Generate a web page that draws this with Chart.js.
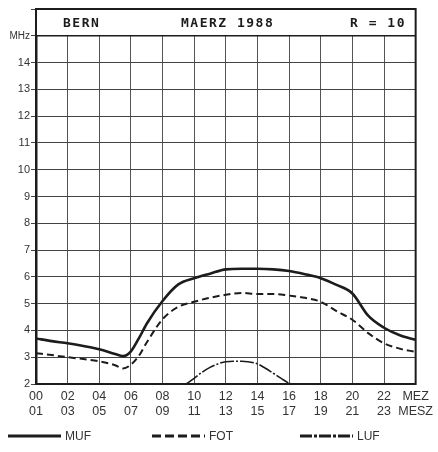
<!DOCTYPE html>
<html>
<head>
<meta charset="utf-8">
<script src="https://cdn.jsdelivr.net/npm/chart.js@4"></script>
<style>
  html, body { margin: 0; background: #fff; }
</style>
</head>
<body>
<canvas id="chart" width="438" height="452"></canvas>
<script>
// hours (MEZ) and frequencies in MHz
const mufHours = [0, 1, 2, 3, 4, 5, 5.5, 6, 6.5, 7, 8, 9, 10, 11, 12, 13, 14, 15, 16, 17, 18, 19, 20, 21, 22, 23, 24];
const mufValues = [3.7, 3.6, 3.52, 3.42, 3.3, 3.12, 3.04, 3.22, 3.7, 4.25, 5.1, 5.72, 5.95, 6.12, 6.28, 6.3, 6.3, 6.28, 6.22, 6.1, 5.95, 5.7, 5.38, 4.55, 4.1, 3.82, 3.65];

const fotHours = [0, 1, 2, 3, 4, 5, 5.5, 6, 6.5, 7, 8, 9, 10, 11, 12, 13, 14, 15, 16, 17, 18, 19, 20, 21, 22, 23, 24];
const fotValues = [3.15, 3.08, 3.0, 2.93, 2.85, 2.7, 2.58, 2.72, 3.05, 3.55, 4.42, 4.88, 5.07, 5.22, 5.33, 5.4, 5.36, 5.36, 5.3, 5.22, 5.07, 4.72, 4.4, 3.9, 3.52, 3.32, 3.2];

const lufHours = [9.5, 10, 10.5, 11, 11.5, 12, 13, 14, 14.5, 15, 15.5, 16, 16.3];
const lufValues = [2.0, 2.21, 2.44, 2.62, 2.75, 2.83, 2.85, 2.75, 2.59, 2.4, 2.21, 2.03, 2.0];

const headerTexts = ["BERN", "MAERZ 1988", "R = 10"];
const legendLabels = ["MUF", "FOT", "LUF"];

function toPoints(xs, ys) {
    return xs.map((x, i) => ({ x: x, y: ys[i] }));
}

function pad2(n) {
    return (n < 10 ? "0" : "") + n;
}

const ink = "#1c1c1c";

// draws the header box, outer frame and the legend under the axis
const framePlugin = {
    id: "frame",
    afterDraw(chart) {
        const ctx = chart.ctx;
        const a = chart.chartArea;
        const y15 = chart.scales.y.getPixelForValue(15);
        ctx.save();

        // header band
        ctx.fillStyle = "#fff";
        ctx.fillRect(a.left + 1, a.top + 1, a.right - a.left - 2, y15 - a.top - 1);

        ctx.strokeStyle = ink;
        ctx.lineWidth = 2;
        ctx.strokeRect(a.left, a.top, a.right - a.left, a.bottom - a.top);
        ctx.lineWidth = 1.6;
        ctx.beginPath();
        ctx.moveTo(a.left, y15);
        ctx.lineTo(a.right, y15);
        ctx.stroke();

        ctx.fillStyle = ink;
        ctx.font = 'bold 13px "DejaVu Sans Mono"';
        ctx.letterSpacing = "1.5px";
        ctx.textBaseline = "middle";
        const headerX = [63, 181, 350];
        const midY = (a.top + y15) / 2 + 1;
        headerTexts.forEach((t, i) => ctx.fillText(t, headerX[i], midY));
        ctx.letterSpacing = "0px";

        // legend
        const legendX = [8, 152, 300];
        const legendY = 436;
        chart.data.datasets.forEach((ds, i) => {
            ctx.strokeStyle = ink;
            ctx.lineWidth = 3.2;
            ctx.setLineDash(ds.legendDash);
            ctx.beginPath();
            ctx.moveTo(legendX[i], legendY);
            ctx.lineTo(legendX[i] + 53, legendY);
            ctx.stroke();
            ctx.setLineDash([]);
            ctx.fillStyle = "#333";
            ctx.font = '12px "Liberation Sans"';
            ctx.fillText(ds.label, legendX[i] + 57, legendY + 1);
        });
        ctx.restore();
    }
};

new Chart(document.getElementById("chart"), {
    type: "line",
    data: {
        datasets: [
            {
                label: legendLabels[0],
                data: toPoints(mufHours, mufValues),
                borderColor: ink,
                borderWidth: 2.6,
                legendDash: [],
            },
            {
                label: legendLabels[1],
                data: toPoints(fotHours, fotValues),
                borderColor: ink,
                borderWidth: 2,
                borderDash: [7, 4],
                legendDash: [9, 4],
            },
            {
                label: legendLabels[2],
                data: toPoints(lufHours, lufValues),
                borderColor: ink,
                borderWidth: 1.6,
                borderDash: [14, 2, 2, 2],
                legendDash: [12, 2, 3, 2],
            },
        ],
    },
    options: {
        responsive: false,
        animation: false,
        layout: { padding: { left: 0, right: 20, top: 9, bottom: 0 } },
        elements: {
            point: { radius: 0 },
            line: { cubicInterpolationMode: "monotone", fill: false },
        },
        plugins: {
            legend: { display: false },
            tooltip: { enabled: false },
        },
        scales: {
            x: {
                type: "linear",
                min: 0,
                max: 24,
                afterFit: (s) => { s.height = 68; },
                ticks: {
                    stepSize: 2,
                    padding: 5,
                    color: "#333",
                    font: { family: "Liberation Sans", size: 12.5, lineHeight: 1.22 },
                    maxRotation: 0,
                    autoSkip: false,
                    callback: (v) => v === 24 ? ["MEZ", "MESZ"] : [pad2(v), pad2(v + 1)],
                },
                grid: { color: "#555", lineWidth: 1, drawTicks: false },
                border: { color: ink, width: 1.5 },
            },
            y: {
                min: 2,
                max: 16,
                afterFit: (s) => { s.width = 36; },
                ticks: {
                    stepSize: 1,
                    padding: 1,
                    color: "#333",
                    font: (c) => ({ family: "Liberation Sans", size: c.tick && c.tick.value === 15 ? 10 : 11 }),
                    callback: (v) => v === 15 ? "MHz" : v === 16 ? "" : v,
                },
                grid: { color: "#444", lineWidth: 1, tickLength: 5 },
                border: { color: ink, width: 2.5 },
            },
        },
    },
    plugins: [framePlugin],
});
</script>
</body>
</html>
